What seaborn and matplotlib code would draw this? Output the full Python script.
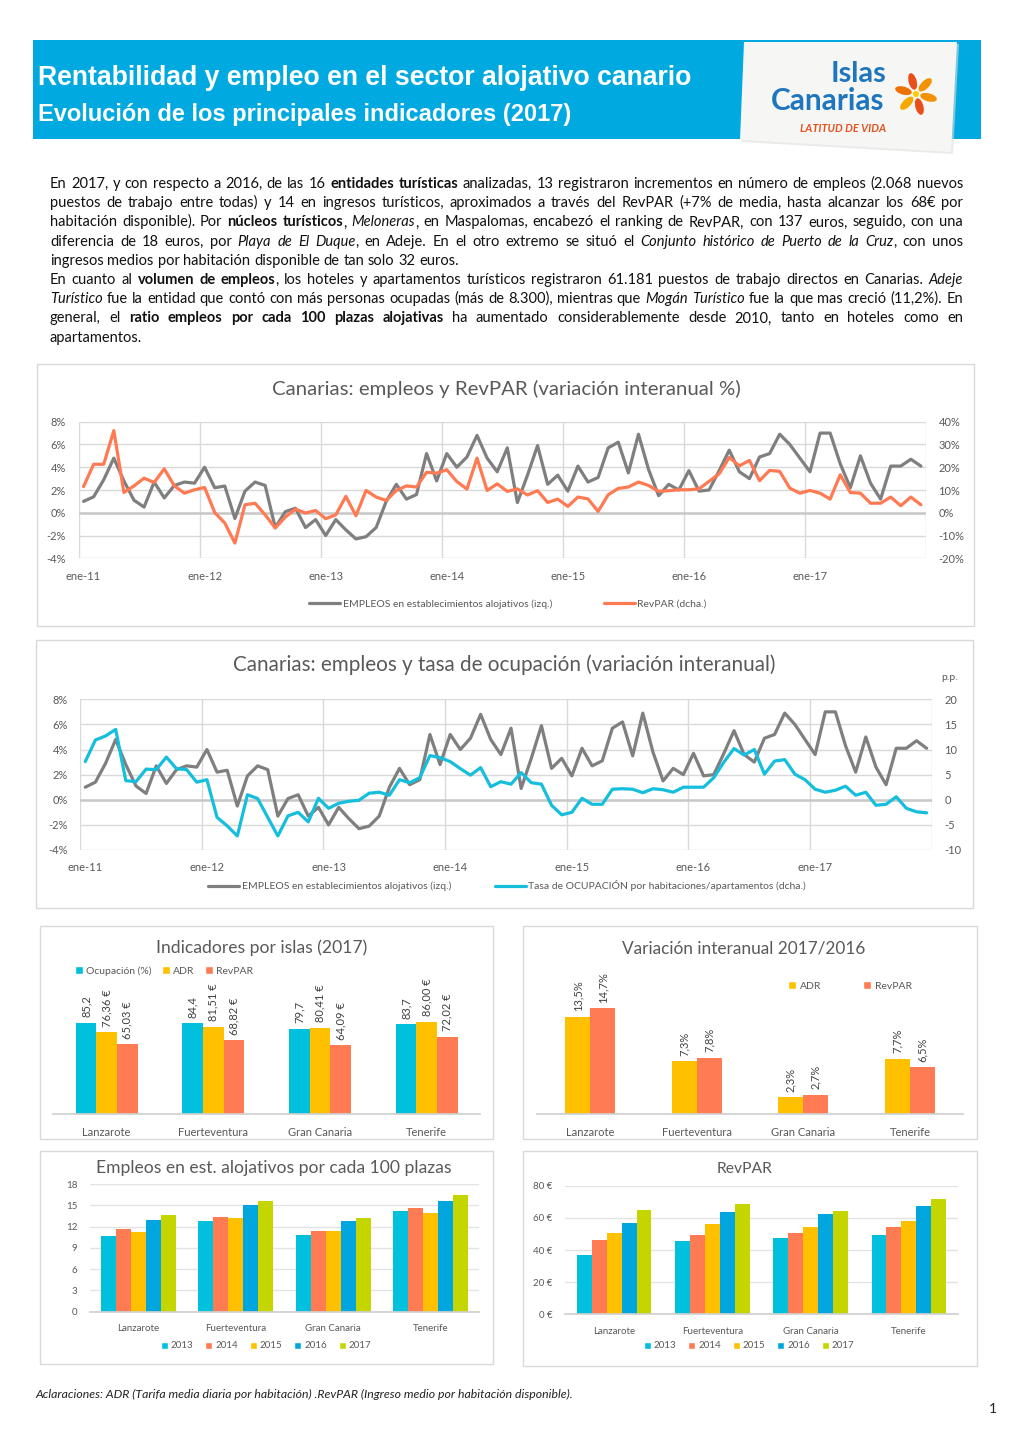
import re
import numpy as np
import pandas as pd
import matplotlib
matplotlib.use("Agg")
import matplotlib.pyplot as plt
import seaborn as sns
from matplotlib.lines import Line2D
from matplotlib.patches import Rectangle, Polygon, Ellipse, Patch
from matplotlib.ticker import FuncFormatter

# ---------------- data ----------------
fechas_ticks = ["ene-11", "ene-12", "ene-13", "ene-14", "ene-15", "ene-16", "ene-17"]

empleos_var = [1.0, 1.4, 2.9, 4.8, 2.8, 1.1, 0.5, 2.7, 1.3, 2.4, 2.7, 2.6,
               4.0, 2.2, 2.35, -0.5, 1.9, 2.7, 2.4, -1.3, 0.1, 0.4, -1.3, -0.6,
               -2.0, -0.6, -1.5, -2.3, -2.1, -1.3, 1.0, 2.5, 1.2, 1.6, 5.2, 2.8,
               5.2, 4.0, 4.9, 6.8, 4.8, 3.6, 5.7, 0.9, 3.3, 5.9, 2.5, 3.3,
               1.9, 4.1, 2.7, 3.1, 5.7, 6.2, 3.5, 6.9, 3.8, 1.5, 2.5, 2.0,
               3.7, 1.9, 2.0, 3.7, 5.5, 3.6, 3.0, 4.9, 5.2, 6.9, 6.0, 4.8,
               3.6, 7.0, 7.0, 4.3, 2.2, 5.0, 2.6, 1.2, 4.1, 4.1, 4.7, 4.1]

revpar_var = [11.5, 21.3, 21.3, 36.1, 8.9, 11.8, 15.2, 13.3, 19.3, 11.8, 8.6, 10.1,
              11.1, 0.1, -4.5, -13.3, 3.5, 4.2, -0.9, -6.7, -1.9, 1.6, -0.1, 1.0,
              -2.6, -0.9, 7.2, -1.3, 9.8, 6.9, 5.4, 9.8, 11.8, 11.3, 17.8, 17.4,
              18.9, 13.7, 10.4, 24.0, 9.8, 12.7, 9.4, 10.5, 7.8, 9.7, 4.5, 6.0,
              2.8, 6.9, 6.1, 0.6, 7.9, 10.7, 11.3, 13.5, 12.0, 9.4, 9.7, 10.1,
              10.1, 10.5, 13.8, 17.1, 24.3, 20.6, 23.0, 14.1, 18.6, 18.2, 10.8, 8.6,
              9.8, 8.6, 6.0, 16.7, 8.9, 8.6, 4.2, 4.2, 6.9, 3.1, 6.9, 3.5]

ocupacion_var = [7.6, 11.9, 12.7, 14.0, 3.8, 3.6, 6.1, 6.0, 8.5, 6.2, 6.0, 3.5,
                 4.0, -3.5, -5.2, -7.2, 1.0, 0.25, -3.5, -7.2, -3.2, -2.5, -4.4, 0.3,
                 -1.7, -0.7, -0.3, -0.1, 1.3, 1.5, 0.9, 4.0, 3.4, 4.4, 8.8, 8.4,
                 7.6, 6.2, 4.9, 6.4, 2.6, 3.6, 3.1, 5.4, 3.4, 3.1, -1.1, -3.0,
                 -2.5, 0.3, -0.9, -0.9, 2.1, 2.2, 2.1, 1.4, 2.2, 2.0, 1.5, 2.5,
                 2.5, 2.5, 4.4, 7.5, 10.2, 8.9, 10.0, 5.1, 7.7, 8.0, 5.1, 4.0,
                 2.1, 1.5, 1.9, 2.7, 0.9, 1.5, -1.1, -0.9, 0.6, -1.7, -2.4, -2.6]

islas = ["Lanzarote", "Fuerteventura", "Gran Canaria", "Tenerife"]
ocupacion_2017 = [85.2, 84.4, 79.7, 83.7]
adr_2017 = [76.36, 81.51, 80.41, 86.00]
revpar_2017 = [65.03, 68.82, 64.09, 72.02]

var_adr = [13.5, 7.3, 2.3, 7.7]
var_revpar = [14.7, 7.8, 2.7, 6.5]

anios = ["2013", "2014", "2015", "2016", "2017"]
empleos100_2013 = [10.6, 12.8, 10.8, 14.25]
empleos100_2014 = [11.65, 13.35, 11.4, 14.65]
empleos100_2015 = [11.25, 13.25, 11.4, 13.9]
empleos100_2016 = [12.9, 15.0, 12.85, 15.65]
empleos100_2017 = [13.6, 15.55, 13.25, 16.4]

revpar_2013 = [37.1, 45.4, 47.5, 49.3]
revpar_2014 = [46.2, 49.5, 50.8, 54.1]
revpar_2015 = [50.8, 56.0, 54.1, 58.0]
revpar_2016 = [56.6, 63.6, 62.4, 67.6]
revpar_2017b = [65.03, 68.82, 64.09, 72.02]

parrafo = [
    "En 2017, y con respecto a 2016, de las 16 **entidades turísticas** analizadas, 13 registraron incrementos en número de empleos (2.068 nuevos",
    "puestos de trabajo entre todas) y 14 en ingresos turísticos, aproximados a través del RevPAR (+7% de media, hasta alcanzar los 68€ por",
    "habitación disponible). Por **núcleos turísticos**, *Meloneras*, en Maspalomas, encabezó el ranking de RevPAR, con 137 euros, seguido, con una",
    "diferencia de 18 euros, por *Playa de El Duque*, en Adeje. En el otro extremo se situó el *Conjunto histórico de Puerto de la Cruz*, con unos",
    "ingresos medios por habitación disponible de tan solo 32 euros.",
    "En cuanto al **volumen de empleos**, los hoteles y apartamentos turísticos registraron 61.181 puestos de trabajo directos en Canarias. *Adeje*",
    "*Turístico* fue la entidad que contó con más personas ocupadas (más de 8.300), mientras que *Mogán Turístico* fue la que mas creció (11,2%). En",
    "general, el **ratio empleos por cada 100 plazas alojativas** ha aumentado considerablemente desde 2010, tanto en hoteles como en",
    "apartamentos.",
]
justificar = [True, True, True, True, False, True, True, True, False]

# ---------------- style ----------------
sns.set_theme(style="white")
plt.rcParams["font.family"] = ["Lato", "DejaVu Sans"]

GRAY_LINE = "#7F7F7F"
ORANGE = "#FF7A52"
CYAN_LINE = "#14BEDC"
C_CYAN = "#00C0DE"
C_YELLOW = "#FFC000"
C_SALMON = "#FF7B53"
C_BLUE = "#00A6DD"
C_LIME = "#C5D500"
TICK = "#595959"
GRID = "#D9D9D9"
FRAME = "#D9D9D9"
HEADER = "#00A9E0"

W, H = 1020, 1442
fig = plt.figure(figsize=(W / 100, H / 100), dpi=100)
fig.patch.set_facecolor("white")
bg = fig.add_axes([0, 0, 1, 1], zorder=0)
bg.set_xlim(0, W)
bg.set_ylim(H, 0)
bg.axis("off")
renderer = fig.canvas.get_renderer()


def axbox(x0, y0, x1, y1, **kw):
    ax = fig.add_axes([x0 / W, 1 - y1 / H, (x1 - x0) / W, (y1 - y0) / H], **kw)
    ax.set_facecolor("none")
    return ax


def fpt(x, y):
    return (x / W, 1 - y / H)


def fit_text(ax, x, y, s, width, size0=10, **kw):
    t = ax.text(x, y, s, fontsize=size0, **kw)
    w = t.get_window_extent(renderer).width
    t.set_fontsize(size0 * width / w)
    return t


# ---------------- header ----------------
bg.add_patch(Rectangle((33, 40), 948, 99, facecolor=HEADER, edgecolor="none"))
hdr_font = ["Liberation Sans Narrow", "Liberation Sans", "DejaVu Sans"]
fit_text(bg, 38, 85, "Rentabilidad y empleo en el sector alojativo canario", 654,
         size0=20, color="white", fontweight="bold", family=hdr_font, va="baseline")
fit_text(bg, 38, 121, "Evolución de los principales indicadores (2017)", 532,
         size0=16, color="white", fontweight="bold", family=hdr_font, va="baseline")

# logo card
bg.add_patch(Polygon([(746, 44), (959, 44), (953, 154), (742, 142)], closed=True,
                     facecolor="#DDDDDD", edgecolor="none", alpha=0.6))
bg.add_patch(Polygon([(744, 42), (957, 42), (951, 152), (740, 140)], closed=True,
                     facecolor="#F6F6F4", edgecolor="none"))
fit_text(bg, 859, 82, "Islas", 56, size0=16, color="#1E77BE", fontweight="bold",
         ha="center", va="baseline")
fit_text(bg, 828, 110, "Canarias", 114, size0=16, color="#1E77BE", fontweight="bold",
         ha="center", va="baseline")
fit_text(bg, 843, 129, "LATITUD DE VIDA", 86, size0=8, color="#E2531F", fontweight="bold",
         fontstyle="italic", ha="center", va="center")
fcx, fcy = 916, 94
petal_cols = ["#F39200", "#E94E1B", "#F7A800", "#EE7203", "#E94E1B", "#F39200"]
for k, ang in enumerate(np.arange(0, 360, 60) + 15):
    r = 13
    px = fcx + r * np.cos(np.radians(ang))
    py = fcy + r * np.sin(np.radians(ang))
    bg.add_patch(Ellipse((px, py), 17, 8, angle=ang, facecolor=petal_cols[k], edgecolor="none"))
bg.add_patch(Ellipse((fcx, fcy), 6, 6, facecolor="#FFCC00", edgecolor="none"))

# ---------------- paragraph ----------------
def parse_line(line):
    segs = []
    for part in re.split(r"(\*\*[^*]+\*\*|\*[^*]+\*)", line):
        if not part:
            continue
        if part.startswith("**"):
            segs.append((part[2:-2], "bold"))
        elif part.startswith("*"):
            segs.append((part[1:-1], "italic"))
        else:
            segs.append((part, "normal"))
    words = [[]]
    for txt, st in segs:
        pieces = txt.split(" ")
        for k, p in enumerate(pieces):
            if k > 0:
                words.append([])
            if p:
                words[-1].append((p, st))
    return [w for w in words if w]


probe = fit_text(bg, 0, -100, "ingresos medios por habitación disponible de tan solo 32 euros.", 407, size0=10)
PAR_SIZE = probe.get_fontsize()
probe.remove()
sp1 = bg.text(0, -100, "a a", fontsize=PAR_SIZE)
sp2 = bg.text(0, -100, "aa", fontsize=PAR_SIZE)
SPACE = sp1.get_window_extent(renderer).width - sp2.get_window_extent(renderer).width
sp1.remove()
sp2.remove()


def draw_par_line(line, y, x0, x1, justify):
    items = []
    for w in parse_line(line):
        segs = []
        ww = 0
        for txt, st in w:
            t = bg.text(0, y, txt, fontsize=PAR_SIZE, color="#111111", va="baseline", ha="left",
                        fontweight="bold" if st == "bold" else "normal",
                        fontstyle="italic" if st == "italic" else "normal")
            wd = t.get_window_extent(renderer).width
            segs.append((t, wd))
            ww += wd
        items.append((segs, ww))
    total = sum(ww for _, ww in items)
    gap = (x1 - x0 - total) / (len(items) - 1) if (justify and len(items) > 1) else SPACE
    x = x0
    for segs, ww in items:
        for t, wd in segs:
            t.set_x(x)
            x += wd
        x += gap


for i, (ln, j) in enumerate(zip(parrafo, justificar)):
    draw_par_line(ln, 188 + 19.2 * i, 50, 963, j)

# ---------------- frames ----------------
for (x0, y0, x1, y1) in [(37, 364, 974, 626), (36, 640, 973, 908), (40, 926, 493, 1139),
                         (523, 926, 977, 1139), (40, 1151, 493, 1364), (523, 1151, 977, 1366)]:
    bg.add_patch(Rectangle((x0, y0), x1 - x0, y1 - y0, fill=False, edgecolor=FRAME, lw=1))

# ---------------- line charts ----------------
x_idx = np.arange(len(empleos_var))


def line_chart(x0, y0, x1, y1, right_vals, right_color, rlim, rstep, rfmt):
    ax = axbox(x0, y0, x1, y1, zorder=2)
    ax.set_axisbelow(True)
    sns.lineplot(x=x_idx, y=empleos_var, ax=ax, color=GRAY_LINE, linewidth=2.3)
    ax.set_xlim(-0.5, len(x_idx) - 0.5)
    ax.set_ylim(-4, 8)
    ax.set_yticks(np.arange(-4, 9, 2))
    ax.yaxis.set_major_formatter(FuncFormatter(lambda v, p: f"{v:.0f}%"))
    ax.set_xticks(np.arange(0, len(x_idx), 12))
    ax.set_xticklabels(fechas_ticks)
    ax.set_xticks(np.arange(-0.5, len(x_idx), 12), minor=True)
    ax.grid(False)
    ax.yaxis.grid(True, color=GRID, lw=1)
    ax.xaxis.grid(True, which="minor", color=GRID, lw=1)
    ax.axhline(0, color="#C8C8C8", lw=1.8, zorder=1)
    for s in ax.spines.values():
        s.set_visible(False)
    ax.tick_params(axis="both", which="both", length=0, labelsize=8, colors=TICK)
    ax.tick_params(axis="y", pad=9)
    ax.tick_params(axis="x", pad=9)
    ax.set_xlabel("")
    ax.set_ylabel("")
    ax2 = ax.twinx()
    ax2.set_facecolor("none")
    sns.lineplot(x=x_idx, y=right_vals, ax=ax2, color=right_color, linewidth=2.3)
    ax2.set_ylim(*rlim)
    ax2.set_yticks(np.arange(rlim[0], rlim[1] + 1, rstep))
    ax2.yaxis.set_major_formatter(FuncFormatter(rfmt))
    ax2.grid(False)
    for s in ax2.spines.values():
        s.set_visible(False)
    ax2.tick_params(axis="y", length=0, labelsize=8, colors=TICK, pad=9)
    ax2.set_ylabel("")
    return ax, ax2


line_chart(78.5, 421.7, 926, 558.3, revpar_var, ORANGE, (-20, 40), 10, lambda v, p: f"{v:.0f}%")
fit_text(bg, 506, 389, "Canarias: empleos y RevPAR (variación interanual %)", 468, size0=13,
         color=TICK, ha="center", va="center")
fig.legend([Line2D([], [], color=GRAY_LINE, lw=2.3), Line2D([], [], color=ORANGE, lw=2.3)],
           ["EMPLEOS en establecimientos alojativos (izq.)", "RevPAR (dcha.)"],
           loc="center", bbox_to_anchor=fpt(508, 604), ncol=2, frameon=False, fontsize=7.5,
           handlelength=3.0, handletextpad=0.2, columnspacing=5.0, borderpad=0, labelcolor=TICK)

line_chart(80.2, 699.3, 931.7, 850, ocupacion_var, CYAN_LINE, (-10, 20), 5, lambda v, p: f"{v:.0f}")
fit_text(bg, 504, 665, "Canarias: empleos y tasa de ocupación (variación interanual)", 540, size0=13,
         color=TICK, ha="center", va="center")
bg.text(950, 677, "p.p.", fontsize=7.5, color=TICK, ha="center", va="center")
fig.legend([Line2D([], [], color=GRAY_LINE, lw=2.3), Line2D([], [], color=CYAN_LINE, lw=2.3)],
           ["EMPLEOS en establecimientos alojativos (izq.)",
            "Tasa de OCUPACIÓN por habitaciones/apartamentos (dcha.)"],
           loc="center", bbox_to_anchor=fpt(507, 886), ncol=2, frameon=False, fontsize=7.5,
           handlelength=3.0, handletextpad=0.2, columnspacing=4.2, borderpad=0, labelcolor=TICK)

# ---------------- bar charts ----------------
def bar_chart(x0, y0, x1, y1, names, values, palette, width, ylim):
    rows = []
    for name, vals in zip(names, values):
        for isla, v in zip(islas, vals):
            rows.append({"isla": isla, "serie": name, "valor": v})
    df = pd.DataFrame(rows)
    ax = axbox(x0, y0, x1, y1, zorder=2)
    ax.set_axisbelow(True)
    sns.barplot(data=df, x="isla", y="valor", hue="serie", order=islas, hue_order=names,
                palette=palette, width=width, saturation=1, legend=False, errorbar=None,
                linewidth=0, ax=ax)
    ax.set_xlim(-0.5, len(islas) - 0.5)
    ax.set_ylim(*ylim)
    ax.set_xlabel("")
    ax.set_ylabel("")
    for s in ["top", "right", "left"]:
        ax.spines[s].set_visible(False)
    ax.spines["bottom"].set_color("#D0D0D0")
    ax.tick_params(axis="both", length=0, labelsize=8, colors=TICK)
    return ax


# Indicadores por islas (2017)
ax3 = bar_chart(53.3, 974.6, 480, 1114, ["Ocupación (%)", "ADR", "RevPAR"],
                [ocupacion_2017, adr_2017, revpar_2017], [C_CYAN, C_YELLOW, C_SALMON], 0.58, (0, 130))
ax3.set_yticks([])
ax3.tick_params(axis="x", pad=9)
lab3 = [[f"{v:.1f}".replace(".", ",") for v in ocupacion_2017],
        [f"{v:.2f} €".replace(".", ",") for v in adr_2017],
        [f"{v:.2f} €".replace(".", ",") for v in revpar_2017]]
for cont, labs in zip(ax3.containers, lab3):
    ax3.bar_label(cont, labels=labs, rotation=90, padding=4, fontsize=8, color="#404040")
fit_text(bg, 262, 948, "Indicadores por islas (2017)", 210, size0=12, color=TICK, ha="center", va="center")
fig.legend([Patch(facecolor=c) for c in [C_CYAN, C_YELLOW, C_SALMON]],
           ["Ocupación (%)", "ADR", "RevPAR"], loc="center left", bbox_to_anchor=fpt(70, 971),
           ncol=3, frameon=False, fontsize=7.5, handlelength=0.75, handleheight=0.75,
           handletextpad=0.3, columnspacing=1.0, borderpad=0, labelcolor=TICK)

# Variación interanual 2017/2016
ax4 = bar_chart(536.7, 974.3, 963.3, 1114, ["ADR", "RevPAR"], [var_adr, var_revpar],
                [C_YELLOW, C_SALMON], 0.47, (0, 19.4))
ax4.set_yticks([])
ax4.tick_params(axis="x", pad=9)
for cont, vals in zip(ax4.containers, [var_adr, var_revpar]):
    ax4.bar_label(cont, labels=[f"{v:.1f}%".replace(".", ",") for v in vals], rotation=90,
                  padding=4, fontsize=8, color="#404040")
fit_text(bg, 744, 948, "Variación interanual 2017/2016", 242, size0=12, color=TICK, ha="center", va="center")
fig.legend([Patch(facecolor=c) for c in [C_YELLOW, C_SALMON]], ["ADR", "RevPAR"],
           loc="center left", bbox_to_anchor=fpt(783, 986), ncol=2, frameon=False, fontsize=7.5,
           handlelength=0.75, handleheight=0.75, handletextpad=0.4, columnspacing=4.0,
           borderpad=0, labelcolor=TICK)

year_pal = [C_CYAN, C_SALMON, C_YELLOW, C_BLUE, C_LIME]

# Empleos por cada 100 plazas
ax5 = bar_chart(90, 1184, 479, 1311.7, anios,
                [empleos100_2013, empleos100_2014, empleos100_2015, empleos100_2016, empleos100_2017],
                year_pal, 0.77, (0, 18))
ax5.set_yticks(np.arange(0, 19, 3))
ax5.yaxis.grid(True, color="#E3E3E3", lw=1)
ax5.tick_params(axis="y", labelsize=7, pad=9)
ax5.tick_params(axis="x", labelsize=7, pad=9)
fit_text(bg, 274, 1168, "Empleos en est. alojativos por cada 100 plazas", 354, size0=12,
         color=TICK, ha="center", va="center")
fig.legend([Patch(facecolor=c) for c in year_pal], anios, loc="center",
           bbox_to_anchor=fpt(266, 1346), ncol=5, frameon=False, fontsize=7,
           handlelength=0.75, handleheight=0.75, handletextpad=0.3, columnspacing=1.2,
           borderpad=0, labelcolor=TICK)

# RevPAR
ax6 = bar_chart(565, 1185.7, 958, 1314.3, anios,
                [revpar_2013, revpar_2014, revpar_2015, revpar_2016, revpar_2017b],
                year_pal, 0.76, (0, 80))
ax6.set_yticks(np.arange(0, 81, 20))
ax6.yaxis.set_major_formatter(FuncFormatter(lambda v, p: f"{v:.0f} €"))
ax6.yaxis.grid(True, color="#E3E3E3", lw=1)
ax6.tick_params(axis="y", labelsize=7, pad=9)
ax6.tick_params(axis="x", labelsize=7, pad=9)
fit_text(bg, 745, 1169, "RevPAR", 56, size0=12, color=TICK, ha="center", va="center")
fig.legend([Patch(facecolor=c) for c in year_pal], anios, loc="center",
           bbox_to_anchor=fpt(749, 1346), ncol=5, frameon=False, fontsize=7,
           handlelength=0.75, handleheight=0.75, handletextpad=0.3, columnspacing=1.2,
           borderpad=0, labelcolor=TICK)

# ---------------- footer ----------------
fit_text(bg, 35, 1394, "Aclaraciones: ADR (Tarifa media diaria por habitación) .RevPAR (Ingreso medio por habitación disponible).",
         536, size0=8, color="#222222", fontstyle="italic", va="center",
         family=["Liberation Sans Narrow", "Lato", "DejaVu Sans"])
bg.text(993, 1409, "1", fontsize=10, color="#222222", ha="center", va="center")

fig.savefig("out.png", dpi=100, facecolor="white")
